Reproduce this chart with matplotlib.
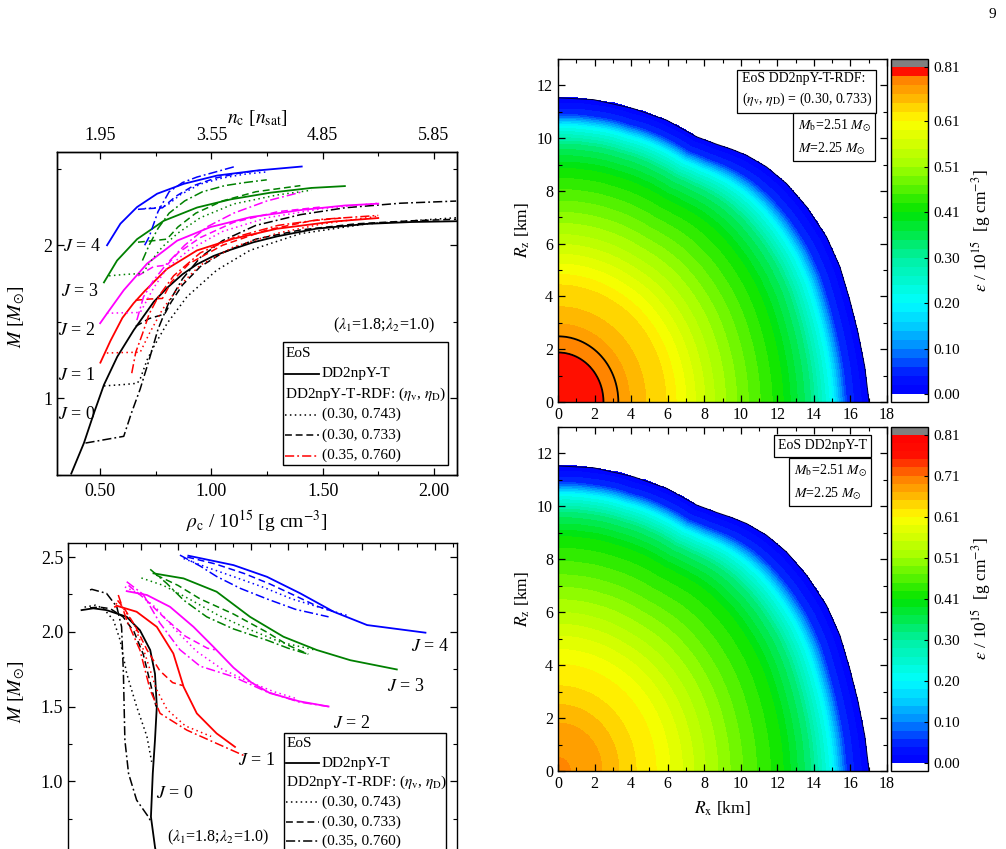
import numpy as np
import matplotlib
matplotlib.use("Agg")
import matplotlib.pyplot as plt
from matplotlib.colors import LinearSegmentedColormap
from matplotlib.lines import Line2D
from matplotlib.patches import Rectangle
from matplotlib.ticker import MultipleLocator, FixedLocator, FormatStrFormatter

plt.rcParams["font.family"] = ["Liberation Serif", "DejaVu Serif"]
plt.rcParams["mathtext.fontset"] = "stix"
plt.rcParams["axes.linewidth"] = 1.0

# ---------------------------------------------------------------- data
# top-left: M vs rho_c  (x, y) per J and EoS
tl_J0_solid = ([0.370, 0.427, 0.472, 0.517, 0.577, 0.651, 0.741, 0.80, 0.87, 0.935, 1.01, 1.085, 1.19, 1.295, 1.47, 1.70, 1.90, 2.10],
               [0.506, 0.706, 0.902, 1.087, 1.271, 1.445, 1.63, 1.72, 1.81, 1.875, 1.93, 1.97, 2.02, 2.058, 2.108, 2.140, 2.152, 2.157])
tl_J0_dot = ([0.517, 0.60, 0.667, 0.681, 0.711, 0.741, 0.801, 0.89, 1.024, 1.174, 1.40, 1.70, 2.10],
             [1.08, 1.088, 1.097, 1.13, 1.25, 1.337, 1.489, 1.663, 1.837, 1.967, 2.076, 2.14, 2.18])
tl_J0_dash = ([0.66, 0.72, 0.79, 0.82, 0.87, 0.95, 1.05, 1.2, 1.4, 1.65, 1.9, 2.10],
              [1.47, 1.52, 1.55, 1.63, 1.74, 1.86, 1.95, 2.04, 2.10, 2.14, 2.16, 2.17])
tl_J0_dashdot = ([0.434, 0.52, 0.606, 0.64, 0.68, 0.72, 0.76, 0.81, 0.87, 0.95, 1.05, 1.2, 1.4, 1.6, 1.85, 2.10],
                 [0.706, 0.728, 0.75, 0.90, 1.06, 1.25, 1.45, 1.63, 1.78, 1.92, 2.03, 2.13, 2.20, 2.245, 2.275, 2.289])

tl_J1_solid = ([0.501, 0.546, 0.60, 0.65, 0.70, 0.80, 0.935, 1.10, 1.295, 1.548, 1.75],
               [1.232, 1.374, 1.525, 1.62, 1.70, 1.845, 1.966, 2.043, 2.108, 2.155, 2.178])
tl_J1_dot = ([0.53, 0.60, 0.68, 0.72, 0.78, 0.86, 0.95, 1.1, 1.3, 1.5, 1.75],
             [1.295, 1.298, 1.30, 1.42, 1.58, 1.74, 1.87, 1.99, 2.08, 2.14, 2.19])
tl_J1_dash = ([0.66, 0.72, 0.78, 0.82, 0.90, 1.05, 1.25, 1.45, 1.60],
              [1.64, 1.648, 1.652, 1.76, 1.88, 2.0, 2.1, 2.16, 2.18])
tl_J1_dashdot = ([0.642, 0.66, 0.69, 0.72, 0.76, 0.83, 0.95, 1.1, 1.3, 1.5, 1.75],
                 [1.163, 1.30, 1.42, 1.55, 1.66, 1.80, 1.95, 2.05, 2.13, 2.17, 2.195])

tl_J2_solid = ([0.50, 0.531, 0.606, 0.711, 0.846, 0.996, 1.176, 1.40, 1.60, 1.75],
               [1.49, 1.554, 1.706, 1.88, 2.03, 2.119, 2.184, 2.23, 2.26, 2.272])
tl_J2_dot = ([0.53, 0.60, 0.68, 0.74, 0.80, 0.90, 1.05, 1.25, 1.5, 1.75],
             [1.555, 1.558, 1.56, 1.72, 1.85, 1.97, 2.09, 2.18, 2.24, 2.275])
tl_J2_dash = ([0.67, 0.74, 0.80, 0.85, 0.95, 1.1, 1.3, 1.49],
              [1.80, 1.86, 1.87, 1.95, 2.05, 2.15, 2.22, 2.25])
tl_J2_dashdot = ([0.665, 0.695, 0.74, 0.80, 0.88, 0.98, 1.1, 1.25, 1.41],
                 [1.51, 1.663, 1.77, 1.88, 2.0, 2.12, 2.21, 2.29, 2.35])

tl_J3_solid = ([0.517, 0.576, 0.666, 0.786, 0.936, 1.086, 1.266, 1.45, 1.60],
               [1.757, 1.90, 2.04, 2.16, 2.247, 2.30, 2.344, 2.375, 2.387])
tl_J3_dot = ([0.54, 0.62, 0.69, 0.73, 0.78, 0.85, 0.95, 1.1, 1.3, 1.45],
             [1.80, 1.81, 1.815, 1.90, 1.99, 2.08, 2.18, 2.27, 2.33, 2.36])
tl_J3_dash = ([0.67, 0.74, 0.80, 0.85, 0.93, 1.05, 1.2, 1.4],
              [2.02, 2.03, 2.04, 2.12, 2.21, 2.29, 2.35, 2.39])
tl_J3_dashdot = ([0.69, 0.72, 0.76, 0.81, 0.88, 0.96, 1.06, 1.15, 1.249],
                 [1.90, 2.0, 2.11, 2.21, 2.29, 2.35, 2.39, 2.41, 2.428])

tl_J4_solid = ([0.531, 0.591, 0.666, 0.756, 0.876, 1.026, 1.206, 1.406],
               [2.0, 2.141, 2.25, 2.337, 2.402, 2.456, 2.489, 2.515])
tl_J4_dot = ([0.70, 0.75, 0.80, 0.86, 0.95, 1.05, 1.15, 1.25],
             [2.24, 2.245, 2.26, 2.33, 2.40, 2.44, 2.465, 2.48])
tl_J4_dash = ([0.67, 0.72, 0.78, 0.84, 0.92, 1.02, 1.12, 1.22],
              [2.235, 2.24, 2.245, 2.32, 2.39, 2.44, 2.47, 2.49])
tl_J4_dashdot = ([0.70, 0.72, 0.76, 0.81, 0.87, 0.935, 1.02, 1.106],
                 [2.0, 2.054, 2.22, 2.35, 2.41, 2.446, 2.48, 2.515])

# bottom-left: M vs equatorial radius [km]
bl_J0_solid = ([11.37, 11.69, 12.05, 12.6, 12.96, 13.24, 13.37, 13.42, 13.37, 13.31, 13.26, 13.37, 13.45],
               [2.145, 2.157, 2.145, 2.10, 2.01, 1.878, 1.72, 1.50, 1.275, 1.052, 0.762, 0.561, 0.45])
bl_J0_dot = ([11.45, 11.75, 11.96, 12.24, 12.42, 12.6, 12.87, 13.15, 13.28],
             [2.165, 2.178, 2.157, 2.078, 1.944, 1.72, 1.50, 1.30, 1.13])
bl_J0_dash = ([11.6, 11.85, 12.15, 12.5, 12.8, 13.05, 13.25, 13.40],
              [2.16, 2.165, 2.155, 2.1, 2.0, 1.85, 1.65, 1.50])
bl_J0_dashdot = ([11.6, 11.65, 12.05, 12.33, 12.46, 12.51, 12.55, 12.65, 12.87, 13.19, 13.26],
                 [2.28, 2.284, 2.257, 2.167, 2.033, 1.72, 1.275, 1.052, 0.874, 0.762, 0.73])

bl_J1_solid = ([12.28, 12.33, 12.87, 13.42, 13.87, 14.15, 14.51, 15.05, 15.55],
               [2.167, 2.174, 2.134, 2.033, 1.855, 1.632, 1.454, 1.32, 1.23])
bl_J1_dot = ([12.3, 12.5, 12.8, 13.1, 13.4, 13.7, 14.2, 14.9],
             [2.19, 2.16, 2.05, 1.85, 1.62, 1.48, 1.37, 1.30])
bl_J1_dash = ([12.35, 12.55, 12.85, 13.15, 13.5, 13.85, 14.13],
              [2.21, 2.15, 2.03, 1.88, 1.74, 1.66, 1.64])
bl_J1_dashdot = ([12.37, 12.6, 12.96, 13.24, 13.51, 14.24, 15.05, 15.83],
                 [2.246, 2.078, 1.878, 1.61, 1.454, 1.342, 1.253, 1.168])

bl_J2_solid = ([12.6, 13.15, 13.78, 14.42, 14.96, 15.51, 16.0, 16.5, 17.3, 18.1],
               [2.272, 2.246, 2.167, 2.033, 1.90, 1.76, 1.66, 1.59, 1.535, 1.50])
bl_J2_dot = ([12.55, 12.9, 13.4, 13.9, 14.5, 15.2, 15.9, 16.6, 17.2],
             [2.30, 2.26, 2.16, 2.02, 1.87, 1.75, 1.67, 1.60, 1.555])
bl_J2_dash = ([12.65, 13.1, 13.6, 14.2, 14.8, 15.0],
              [2.31, 2.22, 2.10, 1.97, 1.89, 1.88])
bl_J2_dashdot = ([12.6, 13.05, 13.5, 14.05, 14.6, 15.5, 16.4, 17.3, 18.1],
                 [2.335, 2.25, 2.06, 1.88, 1.77, 1.70, 1.60, 1.53, 1.50])

bl_J3_solid = ([13.33, 14.15, 15.05, 15.96, 16.87, 17.78, 18.69, 19.96],
               [2.391, 2.357, 2.268, 2.10, 1.967, 1.878, 1.81, 1.748])
bl_J3_dot = ([13.0, 13.6, 14.3, 15.1, 15.9, 16.8, 17.7],
             [2.36, 2.31, 2.22, 2.11, 2.02, 1.93, 1.88])
bl_J3_dash = ([13.4, 14.0, 14.6, 15.5, 16.4, 17.0, 17.55],
              [2.38, 2.31, 2.22, 2.12, 2.0, 1.91, 1.85])
bl_J3_dashdot = ([13.24, 13.69, 14.15, 14.78, 15.5, 16.42, 17.0, 17.55],
                 [2.418, 2.324, 2.212, 2.10, 2.02, 1.944, 1.89, 1.85])

bl_J4_solid = ([14.28, 15.51, 16.42, 17.33, 18.24, 19.15, 20.74],
               [2.509, 2.446, 2.368, 2.257, 2.134, 2.045, 1.994])
bl_J4_dot = ([14.15, 14.8, 15.5, 16.3, 17.1, 17.9, 18.6],
             [2.49, 2.43, 2.37, 2.30, 2.22, 2.16, 2.11])
bl_J4_dash = ([14.25, 15.0, 15.8, 16.5, 17.2, 17.8, 18.3],
              [2.50, 2.455, 2.39, 2.32, 2.24, 2.17, 2.13])
bl_J4_dashdot = ([14.05, 14.6, 15.05, 15.7, 16.42, 17.2, 18.1],
                 [2.513, 2.44, 2.37, 2.29, 2.22, 2.15, 2.10])

J_values = [0, 1, 2, 3, 4]
J_colors = ["black", "red", "#ff00ff", "#008000", "blue"]
tl_Jlabel_x = [0.396, 0.396, 0.396, 0.410, 0.419]
tl_Jlabel_y = [0.89, 1.15, 1.44, 1.70, 1.99]
bl_Jlabel_x = [13.92, 16.15, 18.74, 20.19, 20.87]
bl_Jlabel_y = [0.92, 1.141, 1.389, 1.637, 1.904]

nc_tick_pos = [0.5, 1.0, 1.5, 2.0]
nc_tick_labels = ["1.95", "3.55", "4.85", "5.85"]

eos_labels = ["DD2npY-T", "(0.30, 0.743)", "(0.30, 0.733)", "(0.35, 0.760)"]

# right panels: stellar surface (R_x, R_z) [km] and energy-density profile
outline_x = [0.0, 1.95, 4.13, 5.95, 7.59, 8.68, 9.5, 10.32, 11.41, 12.5, 13.6, 14.69, 15.42, 15.96, 16.42, 16.78, 16.96, 17.02]
outline_z = [11.53, 11.46, 11.12, 10.68, 10.05, 9.77, 9.58, 9.35, 8.91, 8.28, 7.40, 6.26, 5.13, 3.87, 2.61, 1.35, 0.34, 0.0]
core_axis_ratio = 0.755     # z/x extent of the innermost iso-density lines

# normalised radius -> eps / 1e15 g cm^-3
rdf_s = [0.0, 0.146, 0.194, 0.231, 0.282, 0.347, 0.41, 0.50, 0.588, 0.72, 0.81, 0.88, 0.905, 0.928, 1.0]
rdf_eps = [0.80, 0.7109, 0.6906, 0.67, 0.65, 0.63, 0.59, 0.53, 0.48, 0.41, 0.33, 0.21, 0.13, 0.06, 0.0]
had_s = [0.0, 0.042, 0.143, 0.196, 0.25, 0.314, 0.38, 0.47, 0.588, 0.72, 0.81, 0.88, 0.905, 0.928, 1.0]
had_eps = [0.700, 0.690, 0.670, 0.650, 0.630, 0.610, 0.580, 0.530, 0.470, 0.41, 0.33, 0.21, 0.13, 0.06, 0.0]

cb_ticks = [0.0, 0.1016, 0.2031, 0.3047, 0.4063, 0.5078, 0.6094, 0.7109, 0.8125]
cb_labels = ["0.00", "0.10", "0.20", "0.30", "0.41", "0.51", "0.61", "0.71", "0.81"]
cb_ticks_rdf = [0.0, 0.1016, 0.2031, 0.3047, 0.4063, 0.5078, 0.6094, 0.8125]
cb_labels_rdf = ["0.00", "0.10", "0.20", "0.30", "0.41", "0.51", "0.61", "0.81"]

# ---------------------------------------------------------------- style
STYLES = [dict(ls="-", lw=1.3),
          dict(ls=(0, (1, 2.2)), lw=1.1),
          dict(ls=(0, (4.5, 2.5)), lw=1.1),
          dict(ls=(0, (6, 2, 1.2, 2)), lw=1.1)]

W, H = 1006, 849
fig = plt.figure(figsize=(W / 100, H / 100), dpi=100)


def px_axes(l, t, r, b):
    return fig.add_axes([l / W, 1 - b / H, (r - l) / W, (b - t) / H])


def style_ticks(ax, size):
    ax.tick_params(which="both", direction="in", top=True, right=True, labelsize=size)
    ax.tick_params(which="major", length=5, width=0.9)
    ax.tick_params(which="minor", length=3, width=0.8)


def eos_legend(ax, x0, x1, y_top, step, y_bot, dd_color):
    ax.add_patch(Rectangle((x0, y_bot), x1 - x0, y_top - y_bot, transform=ax.transAxes,
                           facecolor="white", edgecolor="black", lw=1.0, zorder=5, clip_on=False))
    rows = ["EoS", 0, "DD2npY-T-RDF: ($\\eta_{\\rm v}$, $\\eta_{\\rm D}$)", 1, 2, 3]
    for i, row in enumerate(rows):
        y = y_top - step * (i + 0.55)
        if isinstance(row, str):
            ax.text(x0 + 0.006, y, row, transform=ax.transAxes, fontsize=11, va="center", zorder=6)
        else:
            col = dd_color if row == 3 else "black"
            ax.add_line(Line2D([x0 + 0.006, x0 + 0.09], [y, y], transform=ax.transAxes,
                               color=col, zorder=6, **STYLES[row]))
            ax.text(x0 + 0.097, y, eos_labels[row], transform=ax.transAxes, fontsize=11,
                    va="center", zorder=6)


def plot_curves(ax, prefix):
    g = globals()
    for J, col in zip(J_values, J_colors):
        for k, name in enumerate(["solid", "dot", "dash", "dashdot"]):
            xs, ys = g[f"{prefix}_J{J}_{name}"]
            ax.plot(xs, ys, color=col, **STYLES[k])


# ---------------------------------------------------------------- top-left
ax = px_axes(57, 152, 457, 475)
plot_curves(ax, "tl")
ax.set_xlim(0.306, 2.104)
ax.set_ylim(0.497, 2.61)
ax.xaxis.set_major_locator(MultipleLocator(0.5))
ax.xaxis.set_minor_locator(MultipleLocator(0.25))
ax.xaxis.set_major_formatter(FormatStrFormatter("%.2f"))
ax.yaxis.set_major_locator(MultipleLocator(1))
ax.yaxis.set_minor_locator(MultipleLocator(0.5))
ax.yaxis.set_major_formatter(FormatStrFormatter("%d"))
style_ticks(ax, 13)
ax.tick_params(axis="x", pad=6)
ax.set_xlabel(r"$\rho_{\rm c}$ / 10$^{15}$ [g cm$^{-3}$]", fontsize=14)
ax.xaxis.set_label_coords(0.5, -0.105)
ax.set_ylabel(r"$M$ [$M_{\odot}$]", fontsize=14)
ax.yaxis.set_label_coords(-0.075, 0.49)
for J, x, y in zip(J_values, tl_Jlabel_x, tl_Jlabel_y):
    ax.text(x, y, f"$J$ = {J}", fontsize=13, ha="center", va="center")
ax.text(1.775, 1.477, r"($\lambda_1$=1.8;$\lambda_2$=1.0)", fontsize=11.5, ha="center", va="center")
eos_legend(ax, 0.565, 0.9775, 0.412, 0.0635, 0.031, "red")

top = ax.twiny()
top.set_xlim(ax.get_xlim())
top.set_xticks(nc_tick_pos)
top.set_xticklabels(nc_tick_labels)
top.xaxis.set_minor_locator(MultipleLocator(0.25))
top.tick_params(which="both", direction="in", labelsize=13, pad=6)
top.tick_params(which="major", length=5, width=0.9)
top.tick_params(which="minor", length=3, width=0.8)
top.set_xlabel(r"$n_{\rm c}$ [$n_{\rm sat}$]", fontsize=14)
top.xaxis.set_label_coords(0.5, 1.09)

# ---------------------------------------------------------------- bottom-left
ax = px_axes(68, 543, 457, 856)
plot_curves(ax, "bl")
ax.set_xlim(11.0, 21.6)
ax.set_ylim(0.5, 2.594)
ax.xaxis.set_major_locator(MultipleLocator(1))
ax.xaxis.set_minor_locator(MultipleLocator(0.5))
ax.yaxis.set_major_locator(FixedLocator([1.0, 1.5, 2.0, 2.5]))
ax.yaxis.set_minor_locator(MultipleLocator(0.25))
ax.yaxis.set_major_formatter(FormatStrFormatter("%.1f"))
style_ticks(ax, 13)
ax.tick_params(axis="x", labelbottom=False)
ax.set_ylabel(r"$M$ [$M_{\odot}$]", fontsize=14)
ax.yaxis.set_label_coords(-0.105, 0.525)
for J, x, y in zip(J_values, bl_Jlabel_x, bl_Jlabel_y):
    ax.text(x, y, f"$J$ = {J}", fontsize=13, ha="center", va="center")
ax.text(15.09, 0.626, r"($\lambda_1$=1.8;$\lambda_2$=1.0)", fontsize=11.5, ha="center", va="center")
eos_legend(ax, 0.555, 0.972, 0.393, 0.0624, -0.05, "black")

# ---------------------------------------------------------------- right panels
cmap = LinearSegmentedColormap.from_list("eps", [
    (0.0, "#0000ff"), (0.045 / 0.8125, "#0018ff"), (0.1016 / 0.8125, "#0088ff"),
    (0.15 / 0.8125, "#00c8ff"), (0.2031 / 0.8125, "#00ffff"), (0.3047 / 0.8125, "#00f0a0"),
    (0.4063 / 0.8125, "#00e400"), (0.5078 / 0.8125, "#a0ff00"), (0.6094 / 0.8125, "#ffff00"),
    (0.7109 / 0.8125, "#ff7800"), (0.76 / 0.8125, "#ff1000"), (1.0, "#ff0000")])
cmap.set_under("white")
cmap.set_over("#808080")

xg = np.linspace(0, 18, 541)
zg = np.linspace(0, 13, 391)
X, Z = np.meshgrid(xg, zg)
TH = np.arctan2(Z, X)
RHO = np.hypot(X, Z)
th_o = np.arctan2(outline_z, outline_x)
r_o = np.hypot(outline_x, outline_z)
order = np.argsort(th_o)
R_surf = np.interp(TH, th_o[order], r_o[order])
a_eq = outline_x[-1]
R_core = a_eq * core_axis_ratio / np.hypot(core_axis_ratio * np.cos(TH), np.sin(TH))
S_surf = RHO / R_surf
wgt = np.clip(S_surf, 0, 1) ** 3
S = (1 - wgt) * RHO / R_core + wgt * S_surf

lev_bot = np.linspace(0, 0.8125, 41)
lev_top = np.append(np.linspace(0, 0.7109375, 36), 0.8125)

panels = [
    ((558, 59, 887, 402), (891, 59, 928, 402), rdf_s, rdf_eps, lev_top, cb_ticks_rdf, cb_labels_rdf,
     ["EoS DD2npY-T-RDF:\n($\\eta_{\\rm v}$, $\\eta_{\\rm D}$) = (0.30, 0.733)", (0.954, 0.962)],
     (0.951, 0.831), False),
    ((558, 427, 887, 771), (891, 427, 928, 771), had_s, had_eps, lev_bot, cb_ticks, cb_labels,
     ["EoS DD2npY-T", (0.939, 0.964)], (0.939, 0.897), True),
]
for box, cbox, s_prof, e_prof, lev, ticks, tlabels, eos_txt, mass_pos, show_xlabel in panels:
    ax = px_axes(*box)
    E = np.interp(S, s_prof, e_prof, right=-0.05)
    E[S_surf > 1] = -0.05
    cf = ax.contourf(X, Z, E, levels=lev, cmap=cmap, vmin=0, vmax=0.8125, extend="both")
    if not show_xlabel:
        ax.contour(X, Z, E, levels=[0.6906, 0.7109], colors="black", linewidths=1.3)
    ax.plot(outline_x, outline_z, color="#000030", lw=0.7)
    ax.set_xlim(0, 18)
    ax.set_ylim(0, 13)
    ax.xaxis.set_major_locator(MultipleLocator(2))
    ax.xaxis.set_minor_locator(MultipleLocator(1))
    ax.yaxis.set_major_locator(MultipleLocator(2))
    ax.yaxis.set_minor_locator(MultipleLocator(1))
    style_ticks(ax, 11.5)
    ax.set_ylabel(r"$R_{\rm z}$ [km]", fontsize=12.5)
    ax.yaxis.set_label_coords(-0.08, 0.5)
    if show_xlabel:
        ax.set_xlabel(r"$R_{\rm x}$ [km]", fontsize=12.5)
        ax.xaxis.set_label_coords(0.5, -0.082)
    ax.text(*eos_txt[1], eos_txt[0], transform=ax.transAxes, fontsize=10, ha="right", va="top",
            linespacing=1.5, multialignment="left",
            bbox=dict(boxstyle="square,pad=0.3", fc="white", ec="black", lw=0.9))
    ax.text(*mass_pos, "$M_{\\rm b}$=2.51 $M_{\\odot}$\n$M$=2.25 $M_{\\odot}$", transform=ax.transAxes,
            fontsize=10, ha="right", va="top", linespacing=1.5, multialignment="left",
            bbox=dict(boxstyle="square,pad=0.3", fc="white", ec="black", lw=0.9))

    cax = px_axes(*cbox)
    cb = fig.colorbar(cf, cax=cax, extendrect=True, extendfrac=0.023)
    cb.set_ticks(ticks)
    cb.set_ticklabels(tlabels)
    cb.ax.tick_params(direction="in", length=3, labelsize=11, pad=4)
    cb.outline.set_linewidth(1.0)
    cb.set_label(r"$\varepsilon$ / 10$^{15}$  [g cm$^{-3}$]", fontsize=12.5, labelpad=6)

fig.text(992 / W, 1 - 14 / H, "9", fontsize=11, ha="center", va="center")

fig.savefig("out.png", dpi=100)
